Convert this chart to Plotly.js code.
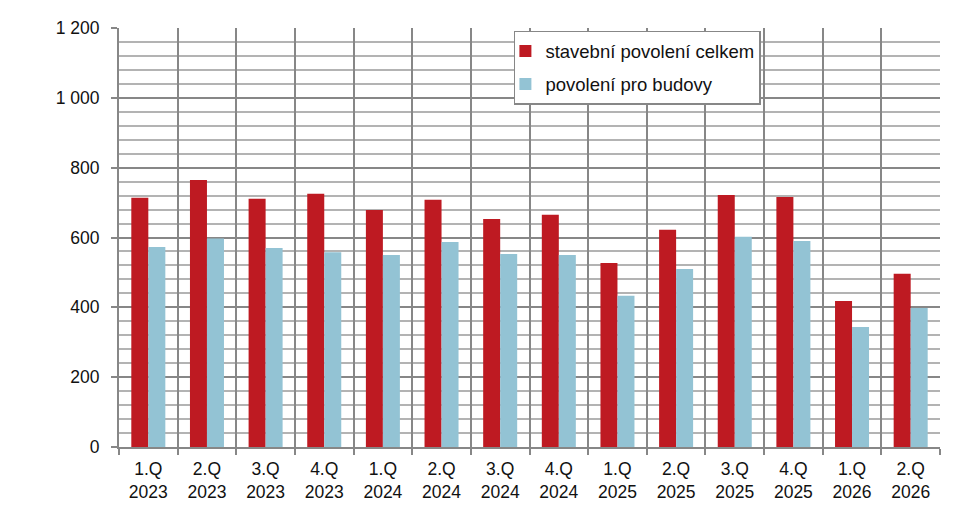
<!DOCTYPE html>
<html>
<head>
<meta charset="utf-8">
<script src="https://cdn.plot.ly/plotly-3.0.1.min.js"></script>
<style>
  html, body { margin: 0; padding: 0; background: #fff; }
  #chart { width: 980px; height: 505px; }
</style>
</head>
<body>
<div id="chart"></div>
<script>
// Quarters shown on the x axis
const quarters = ['1.Q', '2.Q', '3.Q', '4.Q', '1.Q', '2.Q', '3.Q', '4.Q',
                  '1.Q', '2.Q', '3.Q', '4.Q', '1.Q', '2.Q'];
const years = ['2023', '2023', '2023', '2023', '2024', '2024', '2024', '2024',
               '2025', '2025', '2025', '2025', '2026', '2026'];

// Series values
const povoleniCelkem = [714, 765, 711, 725, 679, 708, 653, 665, 527, 622, 722, 716, 418, 496];
const povoleniBudovy = [573, 597, 570, 558, 550, 587, 553, 550, 433, 510, 602, 590, 344, 398];

const categories = quarters.map((q, i) => q + '<br>' + years[i]);

const red = '#be1a22';
const blue = '#93c3d4';
const darkGrid = '#878787';
const lightGrid = '#b3b3b3';
const font = 'Liberation Sans, Arial, sans-serif';

const traces = [
    {
        type: 'bar',
        name: 'stavební povolení celkem',
        legendgroup: 'a',
        x: categories,
        y: povoleniCelkem,
        marker: { color: red },
        hoverinfo: 'skip'
    },
    {
        type: 'bar',
        name: 'povolení pro budovy',
        legendgroup: 'b',
        x: categories,
        y: povoleniBudovy,
        marker: { color: blue },
        hoverinfo: 'skip'
    }
];

const layout = {
    width: 980,
    height: 505,
    margin: { l: 119, r: 40, t: 28, b: 58 },
    paper_bgcolor: '#fff',
    plot_bgcolor: '#fff',
    separators: ', ',
    font: { family: font, size: 17.5, color: '#111' },
    barmode: 'group',
    bargap: 0.42,
    bargroupgap: 0,
    showlegend: true,
    legend: {
        x: 0.481, y: 0.993, xanchor: 'left', yanchor: 'top',
        bgcolor: '#fff',
        bordercolor: darkGrid,
        borderwidth: 1.5,
        font: { family: font, size: 18.5, color: '#111' },
        itemwidth: 30,
        indentation: -10,
        traceorder: 'grouped',
        tracegroupgap: 6
    },
    xaxis: {
        type: 'category',
        tickson: 'boundaries',
        showgrid: true,
        gridcolor: darkGrid,
        gridwidth: 2,
        showline: true,
        linecolor: darkGrid,
        linewidth: 2,
        ticks: 'outside',
        ticklen: 6,
        tickwidth: 2,
        tickcolor: darkGrid,
        tickfont: { family: font, size: 17.5, color: '#111' },
        ticklabelstandoff: 5,
        fixedrange: true
    },
    yaxis: {
        range: [0, 1200],
        dtick: 200,
        tickformat: ',d',
        showgrid: true,
        gridcolor: darkGrid,
        gridwidth: 2,
        minor: { dtick: 40, showgrid: true, gridcolor: lightGrid, gridwidth: 2 },
        showline: true,
        linecolor: darkGrid,
        linewidth: 2,
        zeroline: false,
        ticks: 'outside',
        ticklen: 6,
        tickwidth: 2,
        tickcolor: darkGrid,
        tickfont: { family: font, size: 17.5, color: '#111' },
        ticklabelstandoff: 8,
        fixedrange: true
    }
};

Plotly.newPlot('chart', traces, layout, { displayModeBar: false, staticPlot: true });
</script>
</body>
</html>
